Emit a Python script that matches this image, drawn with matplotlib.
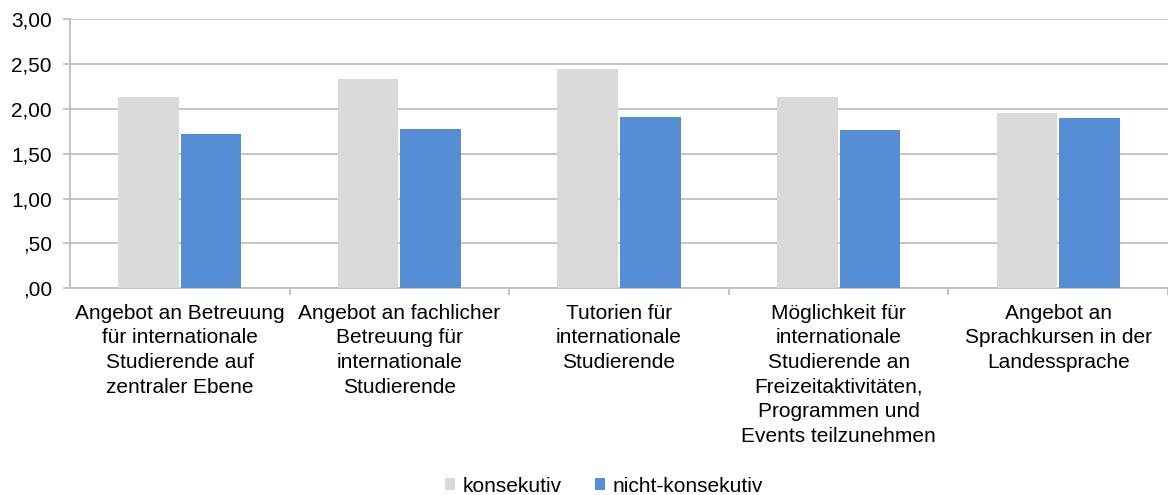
import numpy as np
import matplotlib
matplotlib.use("Agg")
import matplotlib.pyplot as plt
from matplotlib.ticker import FuncFormatter

categories = [
    "Angebot an Betreuung\nfür internationale\nStudierende auf\nzentraler Ebene",
    "Angebot an fachlicher\nBetreuung für\ninternationale\nStudierende",
    "Tutorien für\ninternationale\nStudierende",
    "Möglichkeit für\ninternationale\nStudierende an\nFreizeitaktivitäten,\nProgrammen und\nEvents teilzunehmen",
    "Angebot an\nSprachkursen in der\nLandessprache",
]
konsekutiv = [2.13, 2.33, 2.45, 2.13, 1.96]
nicht_konsekutiv = [1.72, 1.78, 1.91, 1.77, 1.90]
series_names = ["konsekutiv", "nicht-konsekutiv"]
y_ticks = [0, 0.5, 1.0, 1.5, 2.0, 2.5, 3.0]

plt.rcParams['font.family'] = ['Liberation Sans', 'DejaVu Sans']
grid_col = '#bfbfbf'
fs = 15


def de_fmt(v, pos):
    s = ("%.2f" % v).replace('.', ',')
    # Excel-Stil: führende Null weglassen
    return s[1:] if v < 1 else s


fig = plt.figure(figsize=(11.68, 4.95), dpi=100)
W, H = 1168, 495
ax = fig.add_axes([70 / W, (H - 288.3) / H, (W - 70) / W, 269 / H])

x = np.arange(len(categories))
bw = 0.276
ax.bar(x - 0.1425, konsekutiv, bw, color='#d9d9d9', label=series_names[0], zorder=3)
ax.bar(x + 0.1425, nicht_konsekutiv, bw, color='#558ed5', label=series_names[1], zorder=3)

ax.set_xlim(-0.5, -0.5 + (W - 70) / 221)
ax.set_ylim(0, 3)
ax.set_yticks(y_ticks)
ax.yaxis.set_major_formatter(FuncFormatter(de_fmt))
ax.grid(axis='y', color=grid_col, linewidth=1.3, zorder=0)
ax.tick_params(axis='y', length=5, width=1.3, color=grid_col, labelsize=fs, pad=8)

ax.set_xticks(x)
ax.set_xticklabels(categories, fontsize=fs, linespacing=1.38, va='top')
ax.set_xticks(np.arange(len(categories)) + 0.5, minor=True)
ax.tick_params(axis='x', which='major', length=0, pad=11)
ax.tick_params(axis='x', which='minor', length=5, width=1.3, color=grid_col)

for s in ['top', 'right']:
    ax.spines[s].set_visible(False)
for s in ['left', 'bottom']:
    ax.spines[s].set_color(grid_col)
    ax.spines[s].set_linewidth(1.3)

fig.legend(loc='center', bbox_to_anchor=(604 / W, 1 - 486 / H), ncol=2, frameon=False,
           fontsize=fs, handlelength=0.5, handleheight=0.5, handletextpad=0.35,
           columnspacing=1.6, borderpad=0)

fig.savefig("out.png", dpi=100)
